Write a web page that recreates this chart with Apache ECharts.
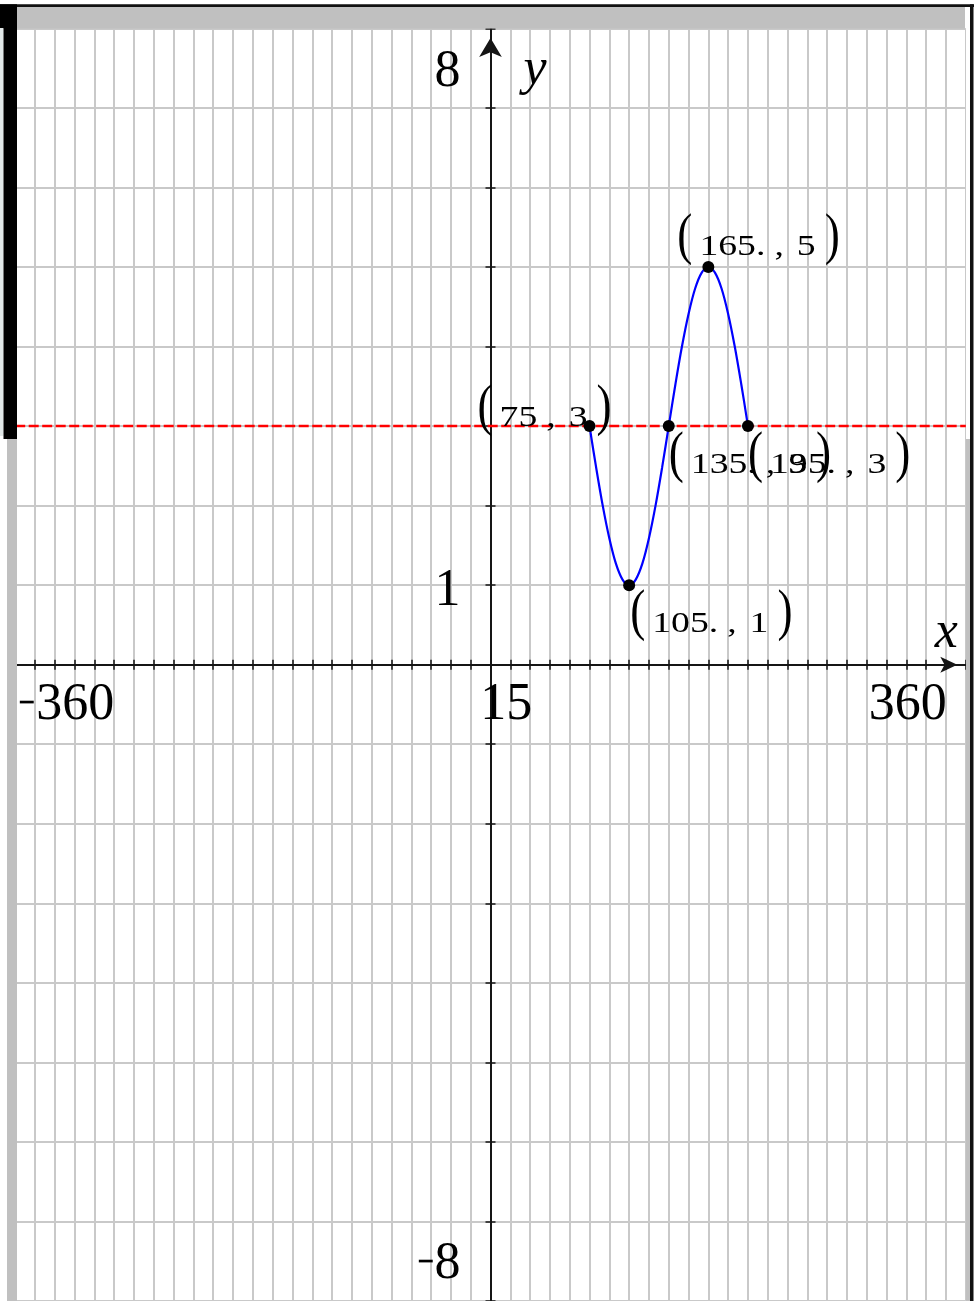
<!DOCTYPE html>
<html><head><meta charset="utf-8">
<script src="https://cdn.jsdelivr.net/npm/echarts@6/dist/echarts.min.js"></script>
<style>html,body{margin:0;padding:0;background:#fff}#c{width:980px;height:1301px}</style>
</head><body><div id="c"></div>
<script>
// ---- data ----
const curveX = [75, 80, 85, 90, 95, 100, 105, 110, 115, 120, 125, 130, 135, 140, 145, 150, 155, 160, 165, 170, 175, 180, 185, 190, 195];
const curveY = [3, 2.48, 2.0, 1.59, 1.27, 1.07, 1, 1.07, 1.27, 1.59, 2.0, 2.48, 3, 3.52, 4.0, 4.41, 4.73, 4.93, 5, 4.93, 4.73, 4.41, 4.0, 3.52, 3];
const pointX = [75, 105, 135, 165, 195];
const pointY = [3, 1, 3, 5, 3];
const pointText = ['75,3', '105.,1', '135.,3', '165.,5', '195.,3'];
const refLineY = 3;
const xTickValues = [-360, 15, 360];
const xTickText = ['\u207B360', '15', '360'];
const yTickValues = [-8, 1, 8];
const yTickText = ['\u207B8', '1', '8'];
const axisNames = ['x', 'y'];
const xMin = -360, xMax = 360, xStep = 15;
const yMin = -8, yMax = 8, yStep = 1;

// ---- styling / placement ----
const SERIF = '"Liberation Serif", "Times New Roman", serif';
const mctx = document.createElement('canvas').getContext('2d');
function tw(t, size, italic) {
  mctx.font = (italic ? 'italic ' : '') + size + 'px ' + SERIF;
  return mctx.measureText(t).width;
}
const MID = 0.25; // offset from drawn "middle" to baseline (em)
function txt(t, x, baseline, size, opts) {
  opts = opts || {};
  return {
    type: 'text', x: x, y: baseline - MID * size, scaleX: opts.sx || 1, scaleY: opts.sy || 1,
    style: { text: t, fontSize: size, fontFamily: SERIF, fontStyle: opts.italic ? 'italic' : 'normal',
      fill: '#000', align: opts.align || 'left', verticalAlign: 'middle' }
  };
}
const LBL = { paren: 58, parenSX: 0.78, size: 29, sx: 1.3, gapIn: 7, gapOut: 9, cBefore: 9, cAfter: 13, lift: 3 };
// [dx of "(" left, dy of digit baseline] relative to the point
const labelPlace = [[-112, 0], [1, 46], [0, 47], [-31, -12], [0, 47]];

function renderPointLabel(params, api) {
  const i = api.value(2);
  const p = api.coord([api.value(0), api.value(1)]);
  let x = p[0] + labelPlace[i][0];
  const base = p[1] + labelPlace[i][1];
  const ch = [];
  const put = (t, size, sx, b) => { ch.push(txt(t, x, b, size, { sx: sx })); x += tw(t, size) * sx; };
  put('(', LBL.paren, LBL.parenSX, base - LBL.lift); x += LBL.gapIn;
  const parts = pointText[i].split(',');
  put(parts[0], LBL.size, LBL.sx, base); x += LBL.cBefore;
  put(',', LBL.size, LBL.sx, base); x += LBL.cAfter;
  put(parts[1], LBL.size, LBL.sx, base); x += LBL.gapOut;
  put(')', LBL.paren, LBL.parenSX, base - LBL.lift);
  return { type: 'group', children: ch };
}

const AX = 52;
const MINUS_DROP = 14;
// placement for axis texts: [dx, baseline dy, align]
const xTickPlace = [[3, 54, 'left'], [-30, 54, 'left'], [-19, 54, 'right']];
const yTickPlace = [[-30, -24, 'right'], [-30, 19, 'right'], [-30, 57, 'right']];
const namePlace = [[-8, -18, 'right'], [33, 55, 'left']];

function renderAxisText(params, api) {
  const kind = api.value(2), i = api.value(3);
  const p = api.coord([api.value(0), api.value(1)]);
  let t, pl, italic = false;
  if (kind === 0) { t = xTickText[i]; pl = xTickPlace[i]; }
  else if (kind === 1) { t = yTickText[i]; pl = yTickPlace[i]; }
  else { t = axisNames[i]; pl = namePlace[i]; italic = true; }
  const ax = p[0] + pl[0], base = p[1] + pl[1];
  if (t.charAt(0) === '\u207B') {
    const rest = t.slice(1);
    const wm = tw('\u207B', AX), wr = tw(rest, AX);
    const left = pl[2] === 'right' ? ax - wm - wr : ax;
    return { type: 'group', children: [
      txt('\u207B', left, base + MINUS_DROP, AX),
      txt(rest, left + wm, base, AX)
    ] };
  }
  return txt(t, ax, base, AX, { align: pl[2], italic: italic });
}

const axisTextData = []
  .concat(xTickValues.map((v, i) => [v, 0, 0, i]))
  .concat(yTickValues.map((v, i) => [0, v, 1, i]))
  .concat([[xMax, 0, 2, 0], [0, yMax, 2, 1]]);

const axisColor = '#151515';
const gridColor = '#c9c9c9';
function axisDef(dim, main) {
  const isX = dim === 'x';
  return {
    type: 'value', min: isX ? xMin : yMin, max: isX ? xMax : yMax, interval: isX ? xStep : yStep,
    position: isX ? 'bottom' : 'left',
    axisLine: { show: true, onZero: true, onZeroAxisIndex: main ? 0 : 1,
      symbol: main ? ['none', 'arrow'] : ['none', 'none'],
      symbolSize: isX ? [12, 17] : [17, 19], symbolOffset: [0, isX ? -8.5 : -9.5],
      lineStyle: { color: axisColor, width: 2 } },
    axisTick: { show: true, inside: main, length: 5, lineStyle: { color: axisColor, width: 1.5 } },
    axisLabel: { show: false },
    splitLine: { show: main, lineStyle: { color: gridColor, width: 2 } }
  };
}

const chart = echarts.init(document.getElementById('c'), null, { renderer: 'canvas' });
chart.setOption({
  animation: false,
  backgroundColor: '#ffffff',
  grid: { left: 15.2, right: 14.2, top: 28.4, bottom: -2.6, containLabel: false },
  xAxis: [axisDef('x', true), axisDef('x', false)],
  yAxis: [axisDef('y', true), axisDef('y', false)],
  series: [
    {
      type: 'line', data: curveX.map((x, i) => [x, curveY[i]]), smooth: 0.35,
      showSymbol: false, lineStyle: { color: '#0000ff', width: 2.2 }, z: 3,
      markLine: { silent: true, symbol: ['none', 'none'], label: { show: false },
        lineStyle: { color: '#ff0000', width: 2.4, type: [10, 3.5] }, data: [{ yAxis: refLineY }] }
    },
    {
      type: 'scatter', data: pointX.map((x, i) => [x, pointY[i]]), symbolSize: 12,
      itemStyle: { color: '#000', opacity: 1 }, z: 6
    },
    { type: 'custom', data: pointX.map((x, i) => [x, pointY[i], i]), renderItem: renderPointLabel, z: 7, clip: false },
    { type: 'custom', data: axisTextData, renderItem: renderAxisText, z: 7, clip: false }
  ],
  graphic: [
    { type: 'rect', z: 100, shape: { x: 0, y: 4.3, width: 974, height: 2.6 }, style: { fill: '#111' } },
    { type: 'rect', z: 100, shape: { x: 17, y: 6.9, width: 948, height: 21.5 }, style: { fill: '#c0c0c0' } },
    { type: 'rect', z: 100, shape: { x: 0, y: 4.3, width: 17, height: 24 }, style: { fill: '#000' } },
    { type: 'rect', z: 100, shape: { x: 0, y: 28, width: 3.5, height: 408 }, style: { fill: '#e2e8e8' } },
    { type: 'rect', z: 100, shape: { x: 3.5, y: 28, width: 13.5, height: 411 }, style: { fill: '#000' } },
    { type: 'rect', z: 100, shape: { x: 0, y: 439, width: 7, height: 862 }, style: { fill: '#fff' } },
    { type: 'rect', z: 100, shape: { x: 7, y: 439, width: 10, height: 862 }, style: { fill: '#c0c0c0' } },
    { type: 'rect', z: 100, shape: { x: 966, y: 439, width: 4, height: 862 }, style: { fill: '#c0c0c0' } },
    { type: 'rect', z: 100, shape: { x: 966, y: 6.9, width: 4, height: 432 }, style: { fill: '#fff' } },
    { type: 'rect', z: 100, shape: { x: 970, y: 4.3, width: 3.5, height: 1297 }, style: { fill: '#111' } },
    { type: 'rect', z: 100, shape: { x: 974, y: 0, width: 6, height: 1301 }, style: { fill: '#fff' } }
  ]
});
</script>
</body></html>
